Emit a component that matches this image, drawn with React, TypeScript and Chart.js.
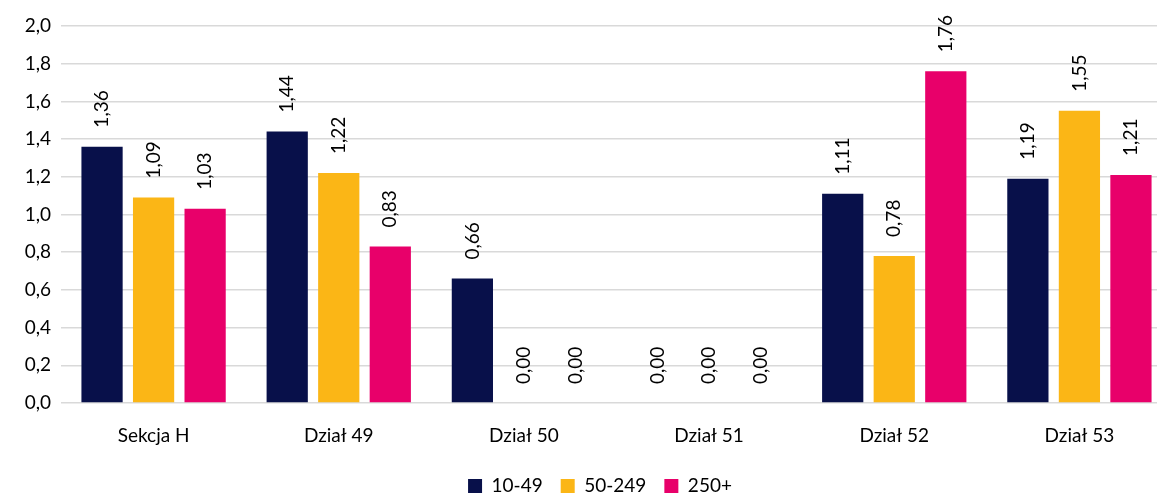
import React, { useEffect, useRef } from "react";
import { Chart, registerables } from "chart.js";

Chart.register(...registerables);

const categories = ["Sekcja H", "Dział 49", "Dział 50", "Dział 51", "Dział 52", "Dział 53"];
const seriesNames = ["10-49", "50-249", "250+"];
const small = [1.36, 1.44, 0.66, 0.0, 1.11, 1.19];
const medium = [1.09, 1.22, 0.0, 0.0, 0.78, 1.55];
const large = [1.03, 0.83, 0.0, 0.0, 1.76, 1.21];
const seriesColors = ["#08104A", "#FBB616", "#E8006A"];

const FONT = "Lato, 'Liberation Sans', sans-serif";
const FONT_SIZE = 19;
const LEGEND_PAD = 18;
// The plot runs a little past the visible frame on the right.
const CANVAS_W = 1172;
const VIEW_W = 1157;
const VIEW_H = 495;

const fmt = (v: number, d: number) => v.toFixed(d).replace(".", ",");

// Writes each bar's value above it, rotated to read bottom-to-top.
const valueLabels = {
  id: "valueLabels",
  afterDatasetsDraw(chart: any) {
    const ctx = chart.ctx;
    ctx.save();
    ctx.fillStyle = "#000";
    ctx.font = `${FONT_SIZE}px ${FONT}`;
    ctx.textAlign = "left";
    ctx.textBaseline = "middle";
    chart.data.datasets.forEach((ds: any, i: number) => {
      const meta = chart.getDatasetMeta(i);
      meta.data.forEach((bar: any, j: number) => {
        ctx.save();
        ctx.translate(bar.x, bar.y - 19);
        ctx.rotate(-Math.PI / 2);
        ctx.fillText(fmt(ds.data[j], 2), 0, 0);
        ctx.restore();
      });
    });
    ctx.restore();
  },
};

// Moves the legend row to its place near the bottom edge.
const legendPlacement = {
  id: "legendPlacement",
  afterLayout(chart: any) {
    const lg = chart.legend;
    if (!lg) return;
    const dx = 600 - (lg.left + lg.right) / 2;
    const dy = 486 - (lg.top + LEGEND_PAD + FONT_SIZE / 2);
    lg.left += dx;
    lg.right += dx;
    lg.top += dy;
    lg.bottom += dy;
  },
};

export default function App() {
  const ref = useRef<HTMLCanvasElement>(null);

  useEffect(() => {
    document.body.style.margin = "0";
    const values = [small, medium, large];
    const chart = new Chart(ref.current!, {
      type: "bar",
      data: {
        labels: categories,
        datasets: seriesNames.map((name, i) => ({
          label: name,
          data: values[i],
          backgroundColor: seriesColors[i],
          borderWidth: 0,
          barPercentage: 0.8,
          categoryPercentage: 0.835,
        })),
      },
      options: {
        animation: false,
        responsive: false,
        maintainAspectRatio: false,
        layout: { padding: { left: 0, right: 0, top: 26, bottom: 0 } },
        plugins: {
          legend: {
            position: "bottom",
            labels: {
              boxWidth: 14,
              boxHeight: 14,
              padding: LEGEND_PAD,
              color: "#000",
              font: { family: FONT, size: FONT_SIZE },
            },
          },
          tooltip: { enabled: false },
        },
        scales: {
          x: {
            grid: { display: false, drawTicks: false },
            border: { display: false },
            ticks: { color: "#000", font: { family: FONT, size: FONT_SIZE }, padding: 21 },
            afterFit: (s: any) => {
              const lh = s.chart.legend ? s.chart.legend.height : 0;
              s.height = VIEW_H - 403 - lh;
            },
          },
          y: {
            min: 0,
            max: 2,
            grid: { color: "#D9D9D9", lineWidth: 1.5, drawTicks: false },
            border: { display: false },
            ticks: {
              stepSize: 0.2,
              padding: 10,
              color: "#000",
              font: { family: FONT, size: FONT_SIZE },
              callback: (v: any) => fmt(Number(v), 1),
            },
            afterFit: (s: any) => {
              s.width = 61;
            },
          },
        },
      },
      plugins: [valueLabels, legendPlacement],
    });
    return () => chart.destroy();
  }, []);

  return (
    <div
      style={{
        position: "absolute",
        left: 0,
        top: 0,
        width: VIEW_W,
        height: VIEW_H,
        overflow: "hidden",
        background: "#fff",
      }}
    >
      <canvas ref={ref} width={CANVAS_W} height={VIEW_H} style={{ display: "block" }} />
    </div>
  );
}
